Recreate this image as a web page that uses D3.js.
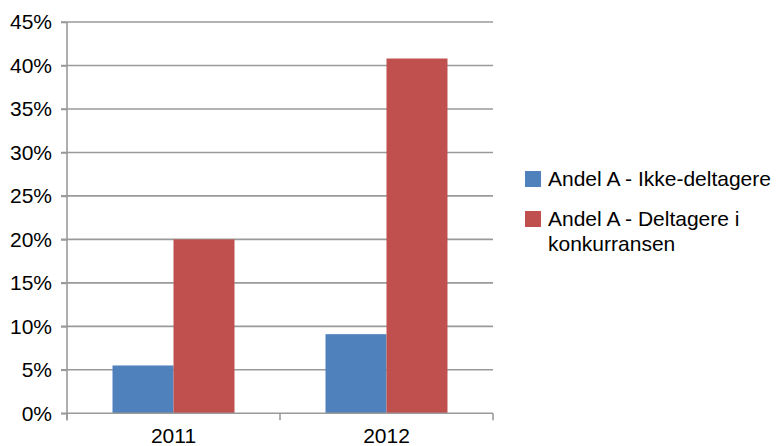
<!DOCTYPE html>
<html><head><meta charset="utf-8">
<script src="https://cdn.jsdelivr.net/npm/d3@7"></script>
<style>body{margin:0;background:#fff}svg{display:block}text{font-family:"Liberation Sans",Arial,Helvetica,sans-serif;fill:#000}</style>
</head><body><svg id="c" width="779" height="446"></svg>
<script>
const categories = ["2011", "2012"];
const seriesNames = ["Andel A - Ikke-deltagere", "Andel A - Deltagere i konkurransen"];
const ikkeDeltagere = [5.5, 9.1];
const deltagere = [20.0, 40.8];
const yTicks = [0, 5, 10, 15, 20, 25, 30, 35, 40, 45];
const colors = ["#4F81BD", "#C0504D"];

const svg = d3.select("#c");
const L = 67, R = 493, T = 22, B = 413.3;
const FS = 21;
const x = d3.scaleBand().domain(categories).range([L, R]).paddingInner(0).paddingOuter(0);
const sub = d3.scaleBand().domain([0, 1]).range([0, x.bandwidth()]).paddingOuter(0.746).paddingInner(0);
const y = d3.scaleLinear().domain([0, 45]).range([B, T]);
const grid = "#9a9a9a";

// gridlines
svg.append("g").selectAll("line").data(yTicks.filter(d => d > 0)).join("line")
  .attr("x1", L - 6).attr("x2", R).attr("y1", d => y(d)).attr("y2", d => y(d))
  .attr("stroke", grid).attr("stroke-width", 1.6);

// bars
const series = [ikkeDeltagere, deltagere];
series.forEach((vals, si) => {
  svg.append("g").selectAll("rect").data(categories).join("rect")
    .attr("x", c => x(c) + sub(si)).attr("width", sub.bandwidth())
    .attr("y", (c, i) => y(vals[i])).attr("height", (c, i) => B - y(vals[i]))
    .attr("fill", colors[si]);
});

// y axis
const ya = svg.append("g").attr("transform", `translate(${L},0)`)
  .call(d3.axisLeft(y).tickValues(yTicks).tickSize(6).tickPadding(9).tickFormat(d => d + "%"));
ya.select(".domain").remove();
ya.selectAll(".tick line").attr("stroke", grid).attr("stroke-width", 1.6);
ya.selectAll(".tick text").attr("font-size", FS).attr("font-family", "Liberation Sans, Arial, sans-serif").attr("fill", "#000");
svg.append("line").attr("x1", L).attr("x2", L).attr("y1", T).attr("y2", B + 7)
  .attr("stroke", grid).attr("stroke-width", 1.6);

// x axis
svg.append("line").attr("x1", L - 6).attr("x2", R).attr("y1", B).attr("y2", B)
  .attr("stroke", grid).attr("stroke-width", 1.6);
const xt = categories.map(c => x(c)).concat([R]);
svg.append("g").selectAll("line").data(xt).join("line")
  .attr("x1", d => d).attr("x2", d => d).attr("y1", B).attr("y2", B + 7)
  .attr("stroke", grid).attr("stroke-width", 1.6);
svg.append("g").selectAll("text").data(categories).join("text")
  .attr("x", c => x(c) + x.bandwidth() / 2).attr("y", 443)
  .attr("text-anchor", "middle").attr("font-size", FS).text(c => c);

// legend
const leg = [
  { lines: ["Andel A - Ikke-deltagere"], y: 171 },
  { lines: ["Andel A - Deltagere i", "konkurransen"], y: 211 }
];
leg.forEach((l, i) => {
  svg.append("rect").attr("x", 525).attr("y", l.y).attr("width", 16).attr("height", 16).attr("fill", colors[i]);
  const t = svg.append("text").attr("x", 548).attr("y", l.y + 15).attr("font-size", FS);
  l.lines.forEach((s, j) => t.append("tspan").attr("x", 548).attr("dy", j ? 25 : 0).text(s));
});
</script></body></html>
